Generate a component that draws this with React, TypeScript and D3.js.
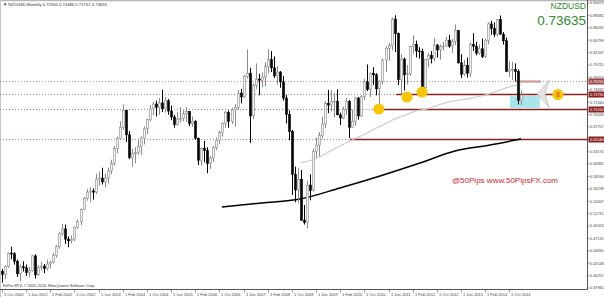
import React from "react";
import * as d3 from "d3";

// ---------- DATA (NZDUSD monthly, Oct 2000 .. Feb 2015) ----------
const opens = [
  0.4100, 0.4050, 0.4190,
  0.4440, 0.4430, 0.4290, 0.4060, 0.4190, 0.4170, 0.4080, 0.4120, 0.4390, 0.4040, 0.4180, 0.4200,
  0.4160, 0.4240, 0.4270, 0.4400, 0.4560, 0.4800, 0.4890, 0.4700, 0.4670, 0.4700, 0.4920, 0.5030,
  0.5250, 0.5450, 0.5570, 0.5590, 0.5570, 0.5810, 0.5830, 0.5760, 0.5830, 0.5960, 0.6100, 0.6380,
  0.6560, 0.6770, 0.7080, 0.6630, 0.6210, 0.6280, 0.6300, 0.6410, 0.6570, 0.6740, 0.6910, 0.7110,
  0.7200, 0.7140, 0.7220, 0.7110, 0.7260, 0.7070, 0.6960, 0.6820, 0.6920, 0.6930, 0.7020, 0.7060,
  0.6840, 0.6880, 0.6560, 0.6160, 0.6380, 0.6340, 0.6100, 0.6200, 0.6390, 0.6530, 0.6670, 0.6840,
  0.7040, 0.6880, 0.7090, 0.7140, 0.7400, 0.7330, 0.7710, 0.7770, 0.6980, 0.7540, 0.7660, 0.7640,
  0.7700, 0.7890, 0.8020, 0.7870, 0.7720, 0.7790, 0.7610, 0.7310, 0.7010, 0.6690, 0.5900, 0.5610,
  0.5800, 0.5050, 0.5010, 0.5700, 0.5600, 0.6320, 0.6440, 0.6620, 0.6830, 0.7210, 0.7180, 0.7240,
  0.7250, 0.7000, 0.6940, 0.7100, 0.7250, 0.6770, 0.6880, 0.7310, 0.6980, 0.7340, 0.7610, 0.7470,
  0.7770, 0.7740, 0.7480, 0.7620, 0.8010, 0.8230, 0.8280, 0.8770, 0.8500, 0.7650, 0.8030, 0.7740,
  0.7760, 0.8260, 0.8300, 0.8180, 0.8170, 0.7500, 0.8020, 0.8100, 0.8040, 0.8290, 0.8200, 0.8260,
  0.8270, 0.8380, 0.8270, 0.8360, 0.8560, 0.7960, 0.7750, 0.7910, 0.7770, 0.8300, 0.8270, 0.8140,
  0.8220, 0.8080, 0.8370, 0.8680, 0.8600, 0.8490, 0.8760, 0.8490, 0.8370, 0.7800, 0.7830, 0.7840,
  0.7800, 0.7265,
];
const highs = [
  0.4150, 0.4220, 0.4460,
  0.4560, 0.4460, 0.4320, 0.4230, 0.4290, 0.4230, 0.4190, 0.4410, 0.4420, 0.4220, 0.4280, 0.4240,
  0.4320, 0.4300, 0.4450, 0.4590, 0.4830, 0.4980, 0.4970, 0.4750, 0.4770, 0.4930, 0.5060, 0.5270,
  0.5480, 0.5630, 0.5660, 0.5640, 0.5910, 0.5950, 0.6020, 0.5910, 0.6020, 0.6170, 0.6420, 0.6600,
  0.6880, 0.7190, 0.7090, 0.6700, 0.6370, 0.6400, 0.6560, 0.6600, 0.6780, 0.6930, 0.7180, 0.7240,
  0.7260, 0.7310, 0.7465, 0.7330, 0.7290, 0.7170, 0.7000, 0.7050, 0.7140, 0.7080, 0.7140, 0.7070,
  0.6970, 0.6900, 0.6580, 0.6400, 0.6520, 0.6400, 0.6240, 0.6420, 0.6580, 0.6700, 0.6860, 0.7070,
  0.7080, 0.7130, 0.7200, 0.7460, 0.7480, 0.7730, 0.8210, 0.7870, 0.7580, 0.7950, 0.7760, 0.7780,
  0.7970, 0.8210, 0.8180, 0.8080, 0.7900, 0.7810, 0.7720, 0.7370, 0.7080, 0.6720, 0.6040, 0.6020,
  0.5980, 0.5330, 0.5780, 0.5900, 0.6370, 0.6580, 0.6680, 0.6960, 0.7250, 0.7460, 0.7460, 0.7400,
  0.7470, 0.7040, 0.7150, 0.7310, 0.7270, 0.7100, 0.7330, 0.7330, 0.7360, 0.7660, 0.7930, 0.7780,
  0.7880, 0.7770, 0.7640, 0.8040, 0.8270, 0.8330, 0.8800, 0.8840, 0.8520, 0.8120, 0.8060, 0.7920,
  0.8270, 0.8470, 0.8370, 0.8250, 0.8220, 0.8030, 0.8140, 0.8180, 0.8420, 0.8310, 0.8300, 0.8350,
  0.8440, 0.8480, 0.8400, 0.8670, 0.8560, 0.8120, 0.8010, 0.8060, 0.8340, 0.8510, 0.8350, 0.8300,
  0.8410, 0.8410, 0.8710, 0.8740, 0.8710, 0.8770, 0.8836, 0.8530, 0.8430, 0.7990, 0.7980, 0.7950,
  0.7840, 0.74486,
];
const lows = [
  0.3897, 0.3960, 0.4170,
  0.4330, 0.4230, 0.4000, 0.3920, 0.4100, 0.4020, 0.3990, 0.4100, 0.3970, 0.4020, 0.4120, 0.4070,
  0.4120, 0.4160, 0.4250, 0.4360, 0.4520, 0.4760, 0.4610, 0.4550, 0.4620, 0.4660, 0.4890, 0.4960,
  0.5240, 0.5410, 0.5380, 0.5430, 0.5540, 0.5690, 0.5710, 0.5660, 0.5730, 0.5900, 0.6060, 0.6290,
  0.6550, 0.6720, 0.6500, 0.6180, 0.6040, 0.6100, 0.6260, 0.6260, 0.6450, 0.6640, 0.6880, 0.6990,
  0.6970, 0.7000, 0.7050, 0.7040, 0.7000, 0.6900, 0.6760, 0.6800, 0.6860, 0.6880, 0.6870, 0.6790,
  0.6780, 0.6540, 0.6070, 0.6060, 0.6120, 0.5920, 0.6000, 0.6130, 0.6350, 0.6460, 0.6600, 0.6760,
  0.6760, 0.6830, 0.6780, 0.7090, 0.7210, 0.7310, 0.7670, 0.6480, 0.6920, 0.7480, 0.7360, 0.7510,
  0.7530, 0.7770, 0.7790, 0.7680, 0.7560, 0.7500, 0.7260, 0.6840, 0.6530, 0.5520, 0.5380, 0.5360,
  0.5040, 0.4970, 0.4900, 0.5420, 0.5580, 0.6210, 0.6230, 0.6560, 0.6750, 0.7030, 0.7060, 0.6950,
  0.6990, 0.6810, 0.6920, 0.7000, 0.6570, 0.6760, 0.6800, 0.6910, 0.6960, 0.7270, 0.7440, 0.7330,
  0.7550, 0.7360, 0.7070, 0.7560, 0.7790, 0.8000, 0.8190, 0.8160, 0.7550, 0.7370, 0.7450, 0.7560,
  0.7720, 0.8130, 0.8060, 0.8040, 0.7450, 0.7460, 0.7880, 0.7950, 0.7990, 0.8060, 0.8020, 0.8190,
  0.8260, 0.8240, 0.8140, 0.8290, 0.7950, 0.7680, 0.7720, 0.7690, 0.7700, 0.8180, 0.8100, 0.8110,
  0.8050, 0.8050, 0.8300, 0.8480, 0.8440, 0.8450, 0.8490, 0.8300, 0.7790, 0.7700, 0.7640, 0.7620,
  0.7190, 0.71751,
];
const closes = [
  0.4050, 0.4190, 0.4440,
  0.4430, 0.4290, 0.4060, 0.4190, 0.4170, 0.4080, 0.4120, 0.4390, 0.4040, 0.4180, 0.4200, 0.4160,
  0.4240, 0.4270, 0.4400, 0.4560, 0.4800, 0.4890, 0.4700, 0.4670, 0.4700, 0.4920, 0.5030, 0.5250,
  0.5450, 0.5570, 0.5590, 0.5570, 0.5810, 0.5830, 0.5760, 0.5830, 0.5960, 0.6100, 0.6380, 0.6560,
  0.6770, 0.7080, 0.6630, 0.6210, 0.6280, 0.6300, 0.6410, 0.6570, 0.6740, 0.6910, 0.7110, 0.7200,
  0.7140, 0.7220, 0.7110, 0.7260, 0.7070, 0.6960, 0.6820, 0.6920, 0.6930, 0.7020, 0.7060, 0.6840,
  0.6880, 0.6560, 0.6160, 0.6380, 0.6340, 0.6100, 0.6200, 0.6390, 0.6530, 0.6670, 0.6840, 0.7040,
  0.6880, 0.7090, 0.7140, 0.7400, 0.7330, 0.7710, 0.7770, 0.6980, 0.7540, 0.7660, 0.7640, 0.7700,
  0.7890, 0.8020, 0.7870, 0.7720, 0.7790, 0.7610, 0.7310, 0.7010, 0.6690, 0.5900, 0.5610, 0.5800,
  0.5050, 0.5010, 0.5700, 0.5600, 0.6320, 0.6440, 0.6620, 0.6830, 0.7210, 0.7180, 0.7240, 0.7250,
  0.7000, 0.6940, 0.7100, 0.7250, 0.6770, 0.6880, 0.7310, 0.6980, 0.7340, 0.7610, 0.7470, 0.7770,
  0.7740, 0.7480, 0.7620, 0.8010, 0.8230, 0.8280, 0.8770, 0.8500, 0.7650, 0.8030, 0.7740, 0.7760,
  0.8260, 0.8300, 0.8180, 0.8170, 0.7500, 0.8020, 0.8100, 0.8040, 0.8290, 0.8200, 0.8260, 0.8270,
  0.8380, 0.8270, 0.8360, 0.8560, 0.7960, 0.7750, 0.7910, 0.7770, 0.8300, 0.8270, 0.8140, 0.8220,
  0.8080, 0.8370, 0.8680, 0.8600, 0.8490, 0.8760, 0.8490, 0.8370, 0.7800, 0.7830, 0.7840, 0.7800,
  0.7265, 0.73635,
];

const xTickLabels = [
  "1 Oct 2000", "1 Jun 2001", "1 Feb 2002", "1 Oct 2002", "1 Jun 2003", "1 Feb 2004",
  "1 Oct 2004", "1 Jun 2005", "1 Feb 2006", "1 Oct 2006", "1 Jun 2007", "1 Feb 2008",
  "1 Oct 2008", "1 Jun 2009", "1 Feb 2010", "1 Oct 2010", "1 Jun 2011", "1 Feb 2012",
  "1 Oct 2012", "1 Jun 2013", "1 Feb 2014", "1 Oct 2014",
];
const xTickStep = 8; // bars between date labels

const yTickLabels = [
  "0.90674", "0.88382", "0.86090", "0.83799", "0.81507", "0.79215", "0.76924", "0.74632",
  "0.72340", "0.70049", "0.67757", "0.65465", "0.63174", "0.60882", "0.58590", "0.56298",
  "0.54007", "0.51715", "0.49423", "0.47132", "0.44840", "0.42548", "0.40257", "0.37965",
];

// horizontal levels: value, index where the solid part starts, solid part end index (null = to axis)
const levelValues = [0.7625, 0.7379, 0.7101, 0.6554];
const levelSolidFrom = [170.0, 130.6, 124.8, 115.2];
const levelSolidTo = [178.5, null, null, null];
const levelLabels = ["0.76250", "0.73790", "0.71010", "0.65540"];

// yellow markers (bar index, price)
const markerIdx = [124.8, 134.1, 139.1, 184.1];
const markerVal = [0.7107, 0.7329, 0.7421, 0.7375];

// trend curve (bar index, price)
const trendIdx = [72.8, 86.1, 98.7, 111.9, 125.2, 138.4, 150.0, 161.6, 171.9];
const trendVal = [0.5295, 0.5369, 0.5443, 0.5646, 0.5868, 0.6108, 0.6330, 0.6441, 0.6552];

// highlight box (bar index range, price range)
const boxIdx = [168.2, 178.1];
const boxVal = [0.7348, 0.7126];

// chevron (bar index, price)
const chevIdx = [181.2, 177.3, 181.2, 179.8];
const chevVal = [0.7640, 0.7385, 0.7130, 0.7385];

const maPeriod = 100;

const symbol = "NZDUSD";
const lastPrice = "0.73635";
const title = "NZDUSD,Monthly  0.72650 0.74486 0.71751 0.73635";
const credit = "FxPro MT4, \u00A9 2001-2014, MetaQuotes Software Corp.";

const FONT = "Liberation Sans, Arial, sans-serif";

export default function App() {
  const W = 604, H = 297;
  const axisX = 587.5;
  const axisY = 289.5;
  const n = closes.length;
  const x = d3.scaleLinear().domain([0, n - 1]).range([2, 521.4]);
  const y = d3.scaleLinear().domain([0.37965, 0.90674]).range([288, 3]);

  // simple moving average of closes
  const ma: [number, number][] = [];
  for (let i = maPeriod - 1; i < n; i++) {
    const s = d3.sum(closes.slice(i - maPeriod + 1, i + 1));
    ma.push([i, s / maPeriod]);
  }
  const line = d3.line<[number, number]>().x((d) => x(d[0])).y((d) => y(d[1]));
  const trendPts: [number, number][] = trendIdx.map((t, i) => [t, trendVal[i]]);
  const trendLine = d3.line<[number, number]>().x((d) => x(d[0])).y((d) => y(d[1])).curve(d3.curveMonotoneX);

  const chevPts = chevIdx.map((t, i) => `${x(t)},${y(chevVal[i])}`).join(" ");

  return (
    <svg width={W} height={H} style={{ position: "absolute", left: 0, top: 0, background: "#fff" }}
      fontFamily={FONT}>
      <rect x={0} y={0} width={W} height={H} fill="#fff" />
      {/* frame */}
      <line x1={0} y1={0.5} x2={W} y2={0.5} stroke="#b8b8b8" strokeWidth={1.5} />
      <line x1={0.5} y1={0} x2={0.5} y2={H} stroke="#c8c8c8" />

      {/* highlight box */}
      <rect x={x(boxIdx[0])} y={y(boxVal[0])} width={x(boxIdx[1]) - x(boxIdx[0])}
        height={y(boxVal[1]) - y(boxVal[0])} fill="#a8e6ea" />

      {/* horizontal levels */}
      {levelValues.map((v, i) => {
        const yy = Math.round(y(v)) + 0.5;
        const from = x(levelSolidFrom[i]);
        const to = levelSolidTo[i] == null ? axisX : x(levelSolidTo[i] as number);
        const first = i === 0;
        return (
          <g key={"lv" + i}>
            <line x1={0} x2={axisX} y1={yy} y2={yy} stroke={first ? "#b07070" : "#b06060"}
              strokeWidth={0.8} strokeDasharray="1,2" />
            <line x1={from} x2={to} y1={yy} y2={yy} stroke={first ? "#c89898" : "#8b2222"}
              strokeWidth={first ? 2.2 : 1.3} />
          </g>
        );
      })}

      {/* moving average */}
      <path d={line(ma) || ""} fill="none" stroke="#cdcdcd" strokeWidth={1.2} />
      {/* trend curve */}
      <path d={trendLine(trendPts) || ""} fill="none" stroke="#000" strokeWidth={1.5} />

      {/* candles */}
      {closes.map((c, i) => {
        const o = opens[i];
        const cx = Math.round(x(i)) + 0.5;
        const bull = c >= o;
        const top = y(Math.max(o, c));
        const bot = y(Math.min(o, c));
        return (
          <g key={"c" + i}>
            <line x1={cx} x2={cx} y1={y(highs[i])} y2={y(lows[i])} stroke={bull ? "#8a8a8a" : "#000"} strokeWidth={1} />
            <rect x={cx - 1} y={top} width={2} height={Math.max(0.8, bot - top)}
              fill={bull ? "#f2f2f2" : "#000"} stroke={bull ? "#8a8a8a" : "#000"} strokeWidth={0.6} />
          </g>
        );
      })}

      {/* chevron */}
      <polygon points={chevPts} fill="#e2e2e2" stroke="#c4c4c4" strokeWidth={0.8} />

      {/* yellow markers */}
      {markerIdx.map((t, i) => (
        <circle key={"m" + i} cx={x(t)} cy={y(markerVal[i])} r={5.5} fill="#f7c600" />
      ))}
      <text x={x(markerIdx[3])} y={y(markerVal[3]) + 2.5} fontSize={7} fontWeight="bold" fill="#e06a00"
        textAnchor="middle">8</text>

      {/* axes */}
      <line x1={axisX} x2={axisX} y1={0} y2={axisY} stroke="#555" strokeWidth={1} />
      <line x1={0} x2={axisX} y1={axisY} y2={axisY} stroke="#555" strokeWidth={1} />

      {yTickLabels.map((lab, i) => {
        const yy = y(parseFloat(lab));
        return (
          <g key={"yt" + i}>
            <line x1={axisX} x2={axisX + 2} y1={yy} y2={yy} stroke="#555" strokeWidth={0.6} />
            <text x={axisX + 2.5} y={yy + 1.4} fontSize={3.8} fill="#444">{lab}</text>
          </g>
        );
      })}
      {levelValues.map((v, i) => {
        const yy = Math.round(y(v)) + 0.5;
        return (
          <g key={"lb" + i}>
            <rect x={axisX + 1} y={yy - 3} width={W - axisX - 1} height={6} fill={i === 0 ? "#a04848" : "#8b2020"} />
            <text x={axisX + 2.5} y={yy + 1.4} fontSize={3.8} fill="#fff">{levelLabels[i]}</text>
          </g>
        );
      })}

      {xTickLabels.map((lab, i) => {
        const xx = Math.round(x(i * xTickStep)) + 0.5;
        return (
          <g key={"xt" + i}>
            <line x1={xx} x2={xx} y1={axisY} y2={axisY + 3} stroke="#555" strokeWidth={0.6} />
            <text x={xx + 1.5} y={295.5} fontSize={4} fill="#444">{lab}</text>
          </g>
        );
      })}

      {/* texts */}
      <text x={3} y={6} fontSize={4.2} fill="#333">{"\u25BC " + title}</text>
      <text x={3} y={287} fontSize={3.8} fill="#333">{credit}</text>
      <text x={586} y={9} fontSize={8.5} fill="#2e8b2e" textAnchor="end">{symbol}</text>
      <text x={586} y={24.5} fontSize={13.5} fill="#2e8b2e" textAnchor="end">{lastPrice}</text>
      <text x={452} y={183} fontSize={8} fill="#cc2a2a">@50Pips</text>
      <text x={558} y={183} fontSize={8} fill="#cc2a2a" textAnchor="end">www.50PipsFX.com</text>
    </svg>
  );
}
